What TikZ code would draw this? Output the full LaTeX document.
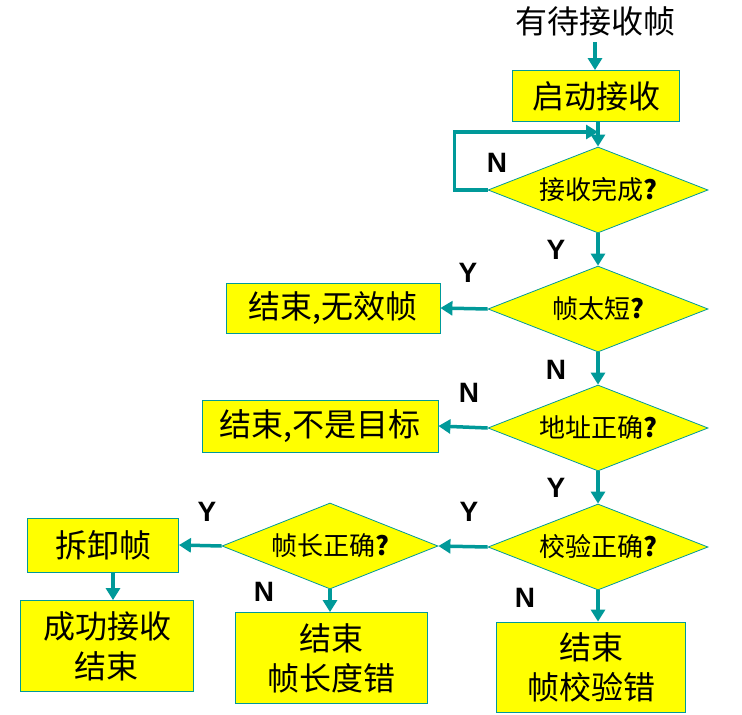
\documentclass[tikz,border=0pt]{standalone}
\usepackage{fontspec}
\setmainfont{Liberation Sans}
\newfontfamily\cjk{Noto Sans CJK SC}
\usetikzlibrary{shapes.geometric, arrows.meta}

\definecolor{flowteal}{RGB}{0,153,153}
\definecolor{boxyellow}{RGB}{255,255,0}

\tikzset{
    stepbox/.style={draw=flowteal, fill=boxyellow, line width=0.8pt, inner sep=0pt,
        align=center, font=\cjk\fontsize{32}{40}\selectfont},
    test/.style={diamond, shape aspect=2.6, draw=flowteal, fill=boxyellow, line width=0.8pt,
        inner sep=0pt, minimum width=220pt, minimum height=86pt,
        font=\cjk\fontsize{26}{28}\selectfont},
    flow/.style={draw=flowteal, line width=3.5pt, -{Triangle[length=12pt,width=14pt]}},
    yn/.style={font=\bfseries\fontsize{28}{32}\selectfont},
}

\begin{document}
\begin{tikzpicture}[x=1pt, y=-1pt]

    % Frame
    \useasboundingbox (0,0) rectangle (742,715);

    % Main column
    \node[font=\cjk\fontsize{32}{36}\selectfont] (wait) at (595,21) {有待接收帧};
    \node[stepbox, minimum width=167pt, minimum height=51pt] (start) at (596,96) {启动接收};
    \node[test] (done)  at (598,190) {接收完成\textbf{?}};
    \node[test] (short) at (598,309) {帧太短\textbf{?}};
    \node[test] (addr)  at (598,428) {地址正确\textbf{?}};
    \node[test] (crc)   at (598,547) {校验正确\textbf{?}};

    % Side branches
    \node[stepbox, minimum width=214pt, minimum height=50pt] (invalid)   at (333,308) {结束,无效帧};
    \node[stepbox, minimum width=236pt, minimum height=52pt] (nottarget) at (320,426) {结束,不是目标};
    \node[test, minimum width=216pt] (len) at (330,546) {帧长正确\textbf{?}};
    \node[stepbox, minimum width=151pt, minimum height=54pt] (unpack) at (103,545) {拆卸帧};

    % End boxes
    \node[stepbox, minimum width=173pt, minimum height=91pt] (ok)     at (107,646) {成功接收\\结束};
    \node[stepbox, minimum width=192pt, minimum height=91pt] (lenerr) at (331,658) {结束\\帧长度错};
    \node[stepbox, minimum width=189pt, minimum height=90pt] (crcerr) at (591,667) {结束\\帧校验错};

    % Loop join point
    \coordinate (loopin) at (598,132);

    % Connectors
    \draw[flow] (wait.south |- 0,42) -- (start.north -| wait.south);
    \draw[flow] (start.south -| done.north) -- (done.north);
    \draw[flow] (done.west) -- ++(-33,0) |- (loopin);
    \draw[flow] (done.south) -- (short.north);
    \draw[flow] (short.west) -- (invalid.east);
    \draw[flow] (short.south) -- (addr.north);
    \draw[flow] (addr.west) -- (nottarget.east);
    \draw[flow] (addr.south) -- (crc.north);
    \draw[flow] (crc.west) -- (len.east);
    \draw[flow] (crc.south) -- (crc.south |- crcerr.north);
    \draw[flow] (len.west) -- (unpack.east);
    \draw[flow] (len.south) -- (len.south |- lenerr.north);
    \draw[flow] ([xshift=10pt]unpack.south) -- ([xshift=10pt]unpack.south |- ok.north);

    % Y / N labels
    \node[yn] (nDone)  at (497,163) {N};
    \node[yn] (yDone)  at (556,250) {Y};
    \node[yn] (yShort) at (468,273) {Y};
    \node[yn] (nShort) at (556,370) {N};
    \node[yn] (nAddr)  at (469,393) {N};
    \node[yn] (yAddr)  at (556,488) {Y};
    \node[yn] (yCrc)   at (469,512) {Y};
    \node[yn] (nCrc)   at (525,598) {N};
    \node[yn] (yLen)   at (207,512) {Y};
    \node[yn] (nLen)   at (264,592) {N};

\end{tikzpicture}
\end{document}
